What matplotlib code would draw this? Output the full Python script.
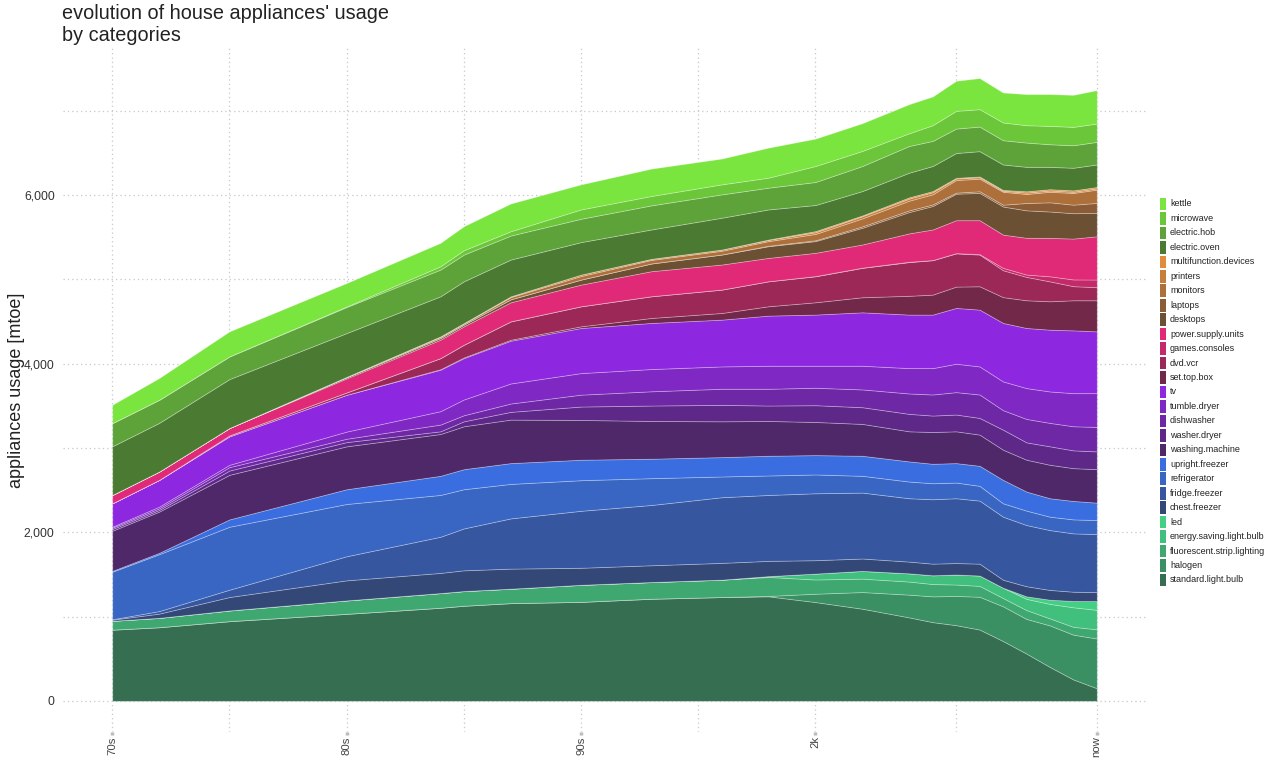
import matplotlib
matplotlib.use("Agg")
import matplotlib.pyplot as plt
from matplotlib.patches import Rectangle

plt.rcParams['font.family'] = ['Liberation Sans', 'DejaVu Sans']

years = [1970, 1972, 1975, 1980, 1984, 1985, 1987, 1990, 1993, 1996, 1998,
         2000, 2002, 2004, 2005, 2006, 2007, 2008, 2009, 2010, 2011, 2012]

standard_light_bulb = [845, 874, 946, 1033, 1105, 1129, 1160, 1175, 1212, 1232, 1240, 1172, 1093, 990, 934, 898, 846, 710, 561, 402, 254, 150]
halogen = [0, 0, 0, 0, 0, 0, 0, 0, 0, 0, 5, 99, 198, 270, 306, 347, 389, 412, 411, 493, 531, 590]
fluorescent_strip_lighting = [105, 111, 127, 159, 174, 174, 171, 202, 198, 206, 225, 169, 159, 155, 146, 135, 129, 98, 105, 83, 93, 109]
energy_saving_light_bulb = [0, 0, 0, 0, 0, 0, 0, 0, 0, 0, 10, 70, 92, 98, 104, 119, 123, 122, 133, 172, 232, 231]
led = [0, 0, 0, 0, 0, 0, 0, 0, 0, 0, 0, 0, 0, 0, 0, 0, 0, 0, 30, 50, 75, 104]
chest_freezer = [13, 50, 159, 238, 239, 246, 238, 202, 199, 199, 181, 159, 147, 139, 138, 136, 141, 95, 120, 116, 110, 106]
fridge_freezer = [5, 30, 87, 286, 429, 497, 596, 676, 715, 779, 782, 794, 782, 752, 764, 769, 748, 748, 726, 710, 692, 689]
refrigerator = [564, 675, 747, 620, 496, 465, 409, 363, 318, 246, 231, 223, 199, 198, 190, 186, 175, 159, 171, 159, 166, 166]
upright_freezer = [10, 16, 87, 175, 227, 238, 247, 243, 231, 230, 234, 230, 238, 239, 231, 231, 238, 278, 226, 219, 219, 207]
washing_machine = [476, 489, 529, 509, 496, 509, 516, 472, 448, 425, 413, 393, 378, 357, 377, 377, 370, 358, 378, 397, 389, 397]
washer_dryer = [20, 20, 51, 50, 32, 59, 92, 159, 183, 195, 183, 199, 198, 207, 195, 199, 198, 238, 206, 219, 211, 211]
dishwasher = [16, 19, 40, 40, 80, 72, 99, 141, 169, 191, 199, 207, 211, 242, 250, 266, 278, 231, 278, 278, 286, 290]
tumble_dryer = [12, 20, 28, 85, 159, 187, 238, 256, 264, 265, 273, 261, 281, 301, 313, 337, 333, 341, 366, 373, 393, 401]
tv = [278, 318, 338, 437, 492, 491, 507, 535, 547, 555, 595, 607, 634, 635, 635, 662, 674, 694, 713, 733, 745, 733]
set_top_box = [0, 0, 0, 0, 6, 8, 12, 20, 59, 79, 111, 146, 179, 223, 237, 253, 277, 306, 329, 337, 357, 369]
dvd_vcr = [0, 0, 11, 28, 132, 151, 218, 238, 258, 278, 297, 309, 349, 400, 409, 395, 376, 319, 277, 236, 167, 155]
games_consoles = [0, 0, 0, 0, 0, 0, 0, 0, 0, 0, 0, 2, 2, 4, 1, 2, 5, 28, 28, 60, 80, 91]
power_supply_units = [99, 99, 88, 166, 218, 218, 226, 257, 297, 297, 277, 276, 275, 337, 363, 391, 403, 395, 436, 456, 485, 513]
desktops = [0, 0, 0, 14, 20, 21, 36, 60, 92, 119, 139, 139, 198, 253, 278, 314, 324, 333, 326, 313, 301, 278]
laptops = [0, 0, 0, 0, 0, 0, 0, 0, 0, 0, 5, 10, 17, 20, 19, 13, 19, 22, 87, 109, 101, 118]
monitors = [0, 0, 0, 5, 13, 13, 25, 41, 42, 44, 55, 75, 95, 115, 120, 150, 149, 153, 107, 125, 139, 157]
printers = [0, 0, 0, 0, 7, 5, 10, 18, 13, 15, 15, 20, 25, 25, 25, 18, 17, 12, 16, 15, 14, 15]
multifunction_devices = [0, 0, 0, 0, 0, 0, 0, 0, 0, 0, 4, 14, 10, 15, 14, 8, 10, 10, 16, 16, 17, 17]
electric_oven = [577, 577, 580, 519, 475, 495, 436, 385, 348, 377, 357, 309, 289, 292, 297, 294, 300, 302, 290, 265, 268, 267]
electric_hob = [275, 274, 269, 309, 317, 317, 285, 277, 286, 277, 258, 273, 297, 317, 298, 290, 292, 288, 288, 268, 267, 268]
microwave = [0, 0, 0, 7, 39, 52, 51, 111, 111, 119, 119, 190, 179, 151, 186, 210, 206, 210, 206, 218, 218, 218]
kettle = [218, 258, 297, 278, 278, 285, 329, 297, 325, 306, 356, 325, 329, 345, 341, 357, 369, 356, 369, 377, 380, 396]

# bottom -> top
labels = ["standard.light.bulb", "halogen", "fluorescent.strip.lighting",
          "energy.saving.light.bulb", "led", "chest.freezer", "fridge.freezer",
          "refrigerator", "upright.freezer", "washing.machine", "washer.dryer",
          "dishwasher", "tumble.dryer", "tv", "set.top.box", "dvd.vcr",
          "games.consoles", "power.supply.units", "desktops", "laptops",
          "monitors", "printers", "multifunction.devices", "electric.oven",
          "electric.hob", "microwave", "kettle"]
series = [standard_light_bulb, halogen, fluorescent_strip_lighting,
          energy_saving_light_bulb, led, chest_freezer, fridge_freezer,
          refrigerator, upright_freezer, washing_machine, washer_dryer,
          dishwasher, tumble_dryer, tv, set_top_box, dvd_vcr, games_consoles,
          power_supply_units, desktops, laptops, monitors, printers,
          multifunction_devices, electric_oven, electric_hob, microwave, kettle]
colors = ["#366e52", "#3a9062", "#3ea870", "#40c07c", "#44d084", "#344878",
          "#3656a0", "#3866c2", "#3a6ee0", "#4e2868", "#5e2888", "#6e28a6",
          "#8028c4", "#8e28e0", "#722848", "#9c2858", "#c42a6a", "#e02a78",
          "#6b5034", "#8c5c36", "#ae703a", "#c67e3c", "#e08c3c", "#4b7a32",
          "#5ea33a", "#6cc63a", "#7be53f"]

W, H = 1280, 780
fig = plt.figure(figsize=(12.8, 7.8), dpi=100)
ax = fig.add_axes([63/W, 1 - 732/H, (1146 - 63)/W, (732 - 47)/H])

ax.stackplot(years, series, colors=colors, edgecolor=(1, 1, 1, 0.3),
             linewidth=0.6, zorder=2)

ax.set_xlim(1967.9, 2014.1)
ax.set_ylim(-369.5, 7758)

ax.set_xticks([1970, 1980, 1990, 2000, 2012])
ax.set_xticklabels(["70s", "80s", "90s", "2k", "now"], rotation=90,
                   fontsize=8.2, color="#444444")
ax.set_xticks([1975, 1985, 1995, 2006], minor=True)
ax.set_yticks([0, 2000, 4000, 6000])
ax.set_yticklabels(["0", "2,000", "4,000", "6,000"], fontsize=8.7,
                   color="#333333")
ax.set_yticks([1000, 3000, 5000, 7000], minor=True)

ax.tick_params(axis='x', which='major', length=2, width=2.5, color="#bbbbbb", pad=1)
ax.tick_params(axis='x', which='minor', length=0)
ax.tick_params(axis='y', which='both', length=0, pad=6)

ax.grid(True, which='both', linestyle=(0, (1, 2.5)), color="#c8c8c8",
        linewidth=0.9, zorder=0)
ax.set_axisbelow(True)
for s in ax.spines.values():
    s.set_visible(False)

fig.text(17/W, 1 - 390/H, "appliances usage [mtoe]", rotation=90,
         fontsize=13, color="#222222", ha='center', va='center')
fig.text(62/W, 1 - 4/H, "evolution of house appliances' usage\nby categories",
         fontsize=14.3, color="#222222", ha='left', va='top', linespacing=1.2)

# legend (top entry = top layer)
leg_labels = labels[::-1]
leg_colors = colors[::-1]
y0, dy = 204.0, 14.46
for i, (lab, col) in enumerate(zip(leg_labels, leg_colors)):
    yc = y0 + i * dy
    fig.patches.append(Rectangle((1160/W, 1 - (yc + 6.3)/H), 5.5/W, 12.6/H,
                                 facecolor=col, edgecolor='none',
                                 transform=fig.transFigure, figure=fig))
    fig.text(1170/W, 1 - yc/H, lab, fontsize=6.5, color="#222222",
             ha='left', va='center')

fig.savefig("out.png", dpi=100)
